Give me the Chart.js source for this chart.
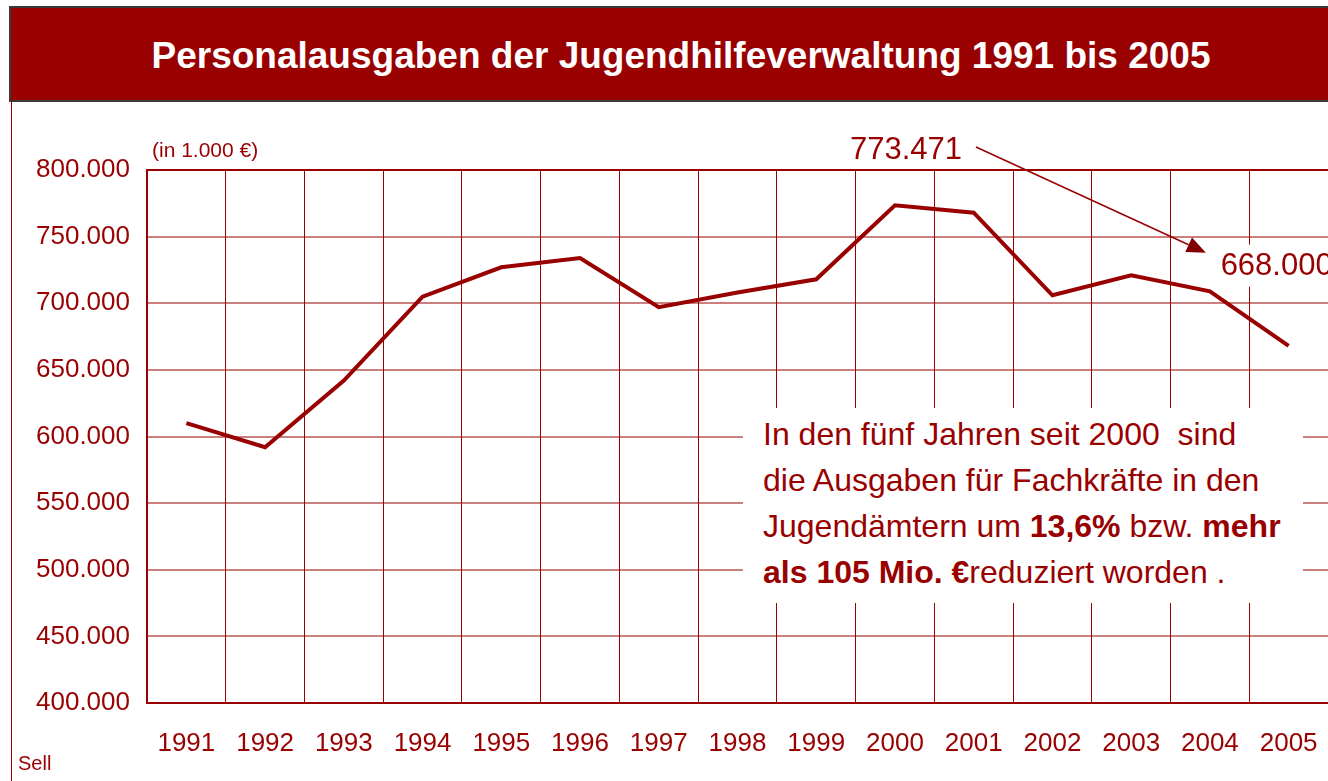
<!DOCTYPE html>
<html>
<head>
<meta charset="utf-8">
<script src="https://cdn.jsdelivr.net/npm/chart.js@4.4.1/dist/chart.umd.min.js"></script>
<style>
  html, body { margin: 0; padding: 0; width: 1328px; height: 781px; overflow: hidden; background: #fff; }
  body { position: relative; font-family: "Liberation Sans", Arial, sans-serif; }
  #c { position: absolute; left: 0; top: 0; }
  #titlebar { position: absolute; left: 9px; top: 6px; width: 1340px; height: 92px; background: #990000;
    border: 2px solid #3a3a3a; border-right: none; color: #fff; font-weight: bold; font-size: 37px;
    line-height: 96px; text-align: center; white-space: nowrap; }
  #frame { position: absolute; left: 11px; top: 100px; width: 0; height: 681px; border-left: 1.5px solid #990000; }
  #sell { position: absolute; left: 18px; top: 752px; font-size: 20px; color: #990000; }
  #note { position: absolute; left: 743px; top: 408px; width: 560px; height: 195px; background: #fff;
    color: #990000; font-size: 32px; line-height: 46px; padding-left: 20px; box-sizing: border-box; padding-top: 3px; white-space: nowrap; }
</style>
</head>
<body>
<canvas id="c" width="1328" height="781"></canvas>
<div id="titlebar">Personalausgaben der Jugendhilfeverwaltung 1991 bis 2005</div>
<div id="frame"></div>
<div id="sell">Sell</div>
<div id="note">In den fünf Jahren seit 2000&nbsp; sind<br>die Ausgaben für Fachkräfte in den<br>Jugendämtern um <b>13,6%</b> bzw. <b>mehr</b><br><b>als 105 Mio. €</b>reduziert worden .</div>
<script>
const years = ['1991','1992','1993','1994','1995','1996','1997','1998','1999','2000','2001','2002','2003','2004','2005'];
const spending = [610000, 592000, 642000, 705000, 727000, 734000, 697000, 708000, 718000, 773471, 768000, 706000, 721000, 709000, 668000];
const yMin = 400000, yMax = 800000, yStep = 50000;
const unitLabel = '(in 1.000 €)';

const RED = '#990000';
const FONT = '"Liberation Sans", Arial, sans-serif';

function fmt(v) {
  return String(Math.round(v)).replace(/\B(?=(\d{3})+(?!\d))/g, '.');
}

const annotations = {
  id: 'annotations',
  beforeDatasetsDraw(chart) {
    const ctx = chart.ctx, x = chart.scales.x, y = chart.scales.y;
    const lx = x.getPixelForValue(14) - 75;
    const ly = y.getPixelForValue(750000) + 8;
    ctx.save();
    ctx.fillStyle = '#fff';
    ctx.fillRect(lx, ly, 200, 42);
    ctx.restore();
  },
  afterDraw(chart) {
    const ctx = chart.ctx, x = chart.scales.x, y = chart.scales.y;
    const top = chart.chartArea.top;
    ctx.save();
    ctx.fillStyle = RED;
    ctx.strokeStyle = RED;
    ctx.font = '21px ' + FONT;
    ctx.textBaseline = 'alphabetic';
    ctx.textAlign = 'left';
    ctx.fillText(unitLabel, chart.chartArea.left + 5, top - 13);
    const px2000 = x.getPixelForValue(9);
    ctx.font = '31px ' + FONT;
    ctx.textAlign = 'right';
    ctx.textBaseline = 'middle';
    ctx.fillText(fmt(spending[9]), px2000 + 67, top - 20);
    ctx.textAlign = 'left';
    ctx.fillText(fmt(spending[14]), x.getPixelForValue(14) - 68, y.getPixelForValue(750000) + 30);
    const sx = px2000 + 81, sy = top - 23;
    const tx = x.getPixelForValue(13) - 4, ty = y.getPixelForValue(750000) + 16;
    const ang = Math.atan2(ty - sy, tx - sx);
    const hl = 19, hw = 8;
    const bx = tx - hl * Math.cos(ang), by = ty - hl * Math.sin(ang);
    ctx.lineWidth = 1.5;
    ctx.beginPath();
    ctx.moveTo(sx, sy);
    ctx.lineTo(bx, by);
    ctx.stroke();
    ctx.beginPath();
    ctx.moveTo(tx, ty);
    ctx.lineTo(bx + hw * Math.sin(ang), by - hw * Math.cos(ang));
    ctx.lineTo(bx - hw * Math.sin(ang), by + hw * Math.cos(ang));
    ctx.closePath();
    ctx.fillStyle = '#800000';
    ctx.fill();
    ctx.restore();
  }
};

new Chart(document.getElementById('c'), {
  type: 'line',
  data: {
    labels: years,
    datasets: [{
      data: spending,
      borderColor: RED,
      borderWidth: 4,
      pointRadius: 0,
      tension: 0,
      fill: false
    }]
  },
  options: {
    responsive: false,
    animation: false,
    devicePixelRatio: 1,
    layout: { padding: { top: 170, left: 0, right: 0, bottom: 0 } },
    plugins: { legend: { display: false }, tooltip: { enabled: false }, title: { display: false } },
    scales: {
      x: {
        offset: true,
        grid: { offset: true, color: RED, lineWidth: 1, drawTicks: false },
        border: { color: RED, width: 2 },
        ticks: { color: RED, font: { family: FONT, size: 26 }, padding: 25, maxRotation: 0, autoSkip: false },
        afterFit(s) { s.height = 78; s.paddingLeft = 0; s.paddingRight = 0; }
      },
      y: {
        min: yMin, max: yMax,
        grid: {
          color: (c) => (c.tick && c.tick.value === yMax) ? RED : 'rgba(153,0,0,0.5)',
          lineWidth: 2,
          drawTicks: false
        },
        border: { color: RED, width: 2 },
        ticks: { stepSize: yStep, color: RED, font: { family: FONT, size: 26 }, padding: 17, callback: (v) => fmt(v) },
        afterFit(s) { s.width = 147; s.paddingTop = 0; s.paddingBottom = 0; }
      }
    }
  },
  plugins: [annotations]
});
</script>
</body>
</html>
